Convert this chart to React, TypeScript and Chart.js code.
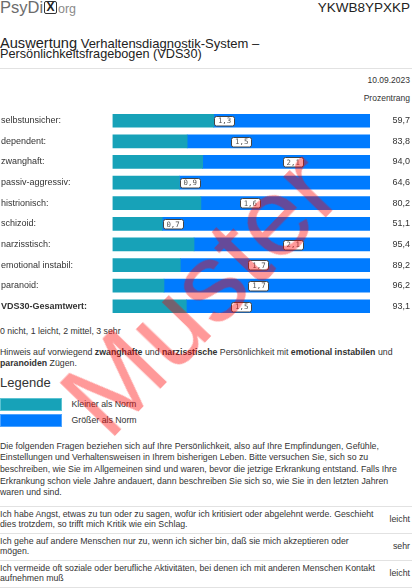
import React, { useEffect, useRef } from 'react';
import { Chart, registerables } from 'chart.js';

Chart.register(...registerables);

// ---- data ----
const categories = [
  'selbstunsicher:',
  'dependent:',
  'zwanghaft:',
  'passiv-aggressiv:',
  'histrionisch:',
  'schizoid:',
  'narzisstisch:',
  'emotional instabil:',
  'paranoid:',
  'VDS30-Gesamtwert:',
];
const scores = [1.3, 1.5, 2.1, 0.9, 1.6, 0.7, 2.1, 1.7, 1.7, 1.5];
const normValues = [1.18, 0.87, 1.05, 0.78, 1.03, 0.58, 0.95, 0.79, 0.6, 0.86];
const percentRanks = ['59,7', '83,8', '94,0', '64,6', '80,2', '51,1', '95,4', '89,2', '96,2', '93,1'];
const scaleMin = 0;
const scaleMax = 3;
const legendLabels = ['Kleiner als Norm', 'Größer als Norm'];

const TEAL = '#17a2b8';
const BLUE = '#007bff';
const FONT = '"Liberation Sans", Arial, Helvetica, sans-serif';
const TEXT = '#333';

const valueBoxes = {
  id: 'valueBoxes',
  afterDatasetsDraw(chart: any) {
    const { ctx, scales } = chart;
    const x = scales.x;
    const y = scales.y;
    ctx.save();
    ctx.font = '7.4px "DejaVu Sans Mono", monospace';
    scores.forEach((v, i) => {
      const cx = x.getPixelForValue(v);
      const cy = y.getPixelForValue(i);
      const text = v.toFixed(1).replace('.', ',');
      const w = 20;
      const h = 9.5;
      ctx.beginPath();
      ctx.roundRect(Math.round(cx - w / 2) + 0.5, Math.round(cy - h / 2) + 0.5, w, h, 2);
      ctx.fillStyle = '#ffffff';
      ctx.fill();
      ctx.lineWidth = 1;
      ctx.strokeStyle = '#444';
      ctx.stroke();
      ctx.fillStyle = '#555';
      ctx.textAlign = 'center';
      ctx.textBaseline = 'middle';
      ctx.fillText(text, cx + 0.5, cy + 0.8);
    });
    ctx.restore();
  },
};

function BarChart() {
  const ref = useRef<HTMLCanvasElement | null>(null);
  useEffect(() => {
    if (!ref.current) return;
    const chart = new Chart(ref.current, {
      type: 'bar',
      data: {
        labels: categories,
        datasets: [
          {
            label: legendLabels[0],
            data: normValues.map((n) => [scaleMin, n]) as any,
            backgroundColor: TEAL,
            barThickness: 13,
          },
          {
            label: legendLabels[1],
            data: normValues.map((n) => [n, scaleMax]) as any,
            backgroundColor: BLUE,
            barThickness: 13,
          },
        ],
      },
      options: {
        indexAxis: 'y',
        responsive: false,
        animation: false,
        devicePixelRatio: 1,
        layout: { padding: { left: 1, right: 2, top: 0, bottom: 0 } },
        plugins: { legend: { display: false }, tooltip: { enabled: false } },
        scales: {
          x: { type: 'linear', min: scaleMin, max: scaleMax, display: false },
          y: {
            type: 'category',
            stacked: true,
            offset: true,
            grid: { display: false },
            border: { display: false },
            ticks: {
              crossAlign: 'far',
              padding: 0,
              color: TEXT,
              font: (c: any) => ({ family: FONT, size: 9, weight: c.index === categories.length - 1 ? 'bold' : 'normal' }),
            },
            afterFit: (s: any) => {
              s.width = 111.5;
            },
          },
          y2: {
            type: 'category',
            labels: percentRanks,
            position: 'right',
            offset: true,
            grid: { display: false },
            border: { display: false },
            ticks: { crossAlign: 'far', padding: 0, color: TEXT, font: { family: FONT, size: 9 } },
            afterFit: (s: any) => {
              s.width = 40;
            },
          },
        },
      } as any,
      plugins: [valueBoxes],
    });
    return () => chart.destroy();
  }, []);
  return (
    <canvas
      ref={ref}
      width={412}
      height={217}
      style={{ position: 'absolute', left: 0, top: 105, width: 412, height: 217 }}
    />
  );
}

// place text by baseline (Liberation Sans metrics, line-height 1.2)
function T(props: { x?: number; right?: number; base: number; size: number; children: any; style?: any }) {
  const { x, right, base, size, children, style } = props;
  const s: any = {
    position: 'absolute',
    top: base - 0.9465 * size,
    fontSize: size,
    lineHeight: `${size * 1.2}px`,
    whiteSpace: 'nowrap',
    color: TEXT,
    ...style,
  };
  if (right !== undefined) {
    s.right = right;
    s.textAlign = 'right';
  } else s.left = x ?? 0;
  return <div style={s}>{children}</div>;
}

function Rule({ y }: { y: number }) {
  return <div style={{ position: 'absolute', left: 0, top: y, width: 412, height: 1, background: '#e2e2e2' }} />;
}

export default function App() {
  const para = [
    'Die folgenden Fragen beziehen sich auf Ihre Persönlichkeit, also auf Ihre Empfindungen, Gefühle,',
    'Einstellungen und Verhaltensweisen in Ihrem bisherigen Leben. Bitte versuchen Sie, sich so zu',
    'beschreiben, wie Sie im Allgemeinen sind und waren, bevor die jetzige Erkrankung entstand. Falls Ihre',
    'Erkrankung schon viele Jahre andauert, dann beschreiben Sie sich so, wie Sie in den letzten Jahren',
    'waren und sind.',
  ];
  const paraBases = [449, 460.7, 472.4, 484, 495.5];
  const rows = [
    {
      lines: [
        'Ich habe Angst, etwas zu tun oder zu sagen, wofür ich kritisiert oder abgelehnt werde. Geschieht',
        'dies trotzdem, so trifft mich Kritik wie ein Schlag.',
      ],
      answer: 'leicht',
    },
    {
      lines: ['Ich gehe auf andere Menschen nur zu, wenn ich sicher bin, daß sie mich akzeptieren oder', 'mögen.'],
      answer: 'sehr',
    },
    {
      lines: ['Ich vermeide oft soziale oder berufliche Aktivitäten, bei denen ich mit anderen Menschen Kontakt', 'aufnehmen muß'],
      answer: 'leicht',
    },
  ];
  const ruleYs = [505.5, 532.5, 559.5, 586.5];
  const fs = 8.75;
  return (
    <div
      style={{
        position: 'absolute',
        left: 0,
        top: 0,
        width: 412,
        height: 588,
        overflow: 'hidden',
        background: '#fff',
        fontFamily: FONT,
        color: TEXT,
      }}
    >
      {/* header */}
      <T x={0} base={14} size={16.5} style={{ color: '#6c6c6c' }}>
        PsyDi
      </T>
      <div
        style={{
          position: 'absolute',
          left: 44,
          top: 1,
          width: 11,
          height: 11,
          border: '1.5px solid #333',
          borderRadius: 2,
          fontSize: 12,
          lineHeight: '11px',
          textAlign: 'center',
          fontWeight: 'bold',
          color: '#222',
        }}
      >
        X
      </div>
      <T x={58} base={14} size={12.5} style={{ color: '#8a8a8a' }}>
        org
      </T>
      <T right={2} base={13} size={13.5} style={{ color: '#222' }}>
        YKWB8YPXKP
      </T>

      <T x={0} base={48.3} size={13} style={{ color: '#222' }}>
        <span style={{ fontSize: 14.6 }}>Auswertung</span> Verhaltensdiagnostik-System –
      </T>
      <T x={0} base={58.6} size={12.7} style={{ color: '#222' }}>
        Persönlichkeitsfragebogen (VDS30)
      </T>
      <Rule y={67.5} />
      <T right={2} base={83} size={8.5}>
        10.09.2023
      </T>
      <T right={2} base={100.8} size={8.5}>
        Prozentrang
      </T>

      <BarChart />

      <T x={0} base={334} size={fs}>
        0 nicht, 1 leicht, 2 mittel, 3 sehr
      </T>
      <T x={0} base={354.8} size={fs}>
        Hinweis auf vorwiegend <b>zwanghafte</b> und <b>narzisstische</b> Persönlichkeit mit{' '}
        <b>emotional instabilen</b> und
      </T>
      <T x={0} base={365.8} size={fs}>
        <b>paranoiden</b> Zügen.
      </T>

      <T x={0} base={387.3} size={13}>
        Legende
      </T>
      <div
        style={{
          position: 'absolute',
          left: 0,
          top: 398,
          width: 62,
          height: 12.5,
          background: TEAL,
          boxSizing: 'border-box',
          border: '1px solid #5cc3d2',
        }}
      />
      <div
        style={{
          position: 'absolute',
          left: 0,
          top: 414.2,
          width: 62,
          height: 13,
          background: BLUE,
          boxSizing: 'border-box',
          border: '1px solid #4da3ff',
        }}
      />
      <T x={71.5} base={407.5} size={fs}>
        {legendLabels[0]}
      </T>
      <T x={71.5} base={423.7} size={fs}>
        {legendLabels[1]}
      </T>

      {para.map((l, i) => (
        <T key={i} x={0} base={paraBases[i]} size={fs}>
          {l}
        </T>
      ))}

      {ruleYs.map((y, i) => (
        <Rule key={i} y={y} />
      ))}
      {rows.map((r, i) => {
        const top = ruleYs[i];
        return (
          <React.Fragment key={i}>
            <T x={0} base={top + 11.3} size={fs}>
              {r.lines[0]}
            </T>
            <T x={0} base={top + 21.4} size={fs}>
              {r.lines[1]}
            </T>
            <T right={2} base={top + 16.8} size={fs}>
              {r.answer}
            </T>
          </React.Fragment>
        );
      })}

      {/* watermark */}
      <div
        style={{
          position: 'absolute',
          left: 200,
          top: 293,
          transform: 'translate(-50%, -50%) rotate(-46deg)',
          fontSize: 112,
          lineHeight: 1,
          fontWeight: 'normal',
          color: 'rgba(255, 0, 0, 0.4)',
          whiteSpace: 'nowrap',
          pointerEvents: 'none',
        }}
      >
        Muster
      </div>
    </div>
  );
}
